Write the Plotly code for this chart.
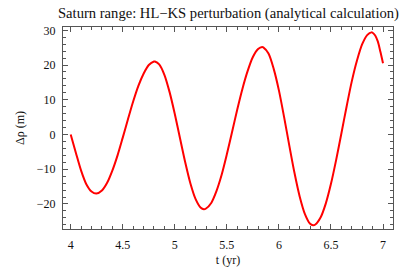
import plotly.graph_objects as go

# Values (extrema, zero crossings and points between)
t_yr = [4.00, 4.05, 4.10, 4.15, 4.20, 4.246, 4.30, 4.35, 4.40, 4.45,
        4.50, 4.55, 4.60, 4.65, 4.70, 4.75, 4.80, 4.809, 4.85, 4.90,
        4.95, 5.00, 5.05, 5.10, 5.15, 5.20, 5.25, 5.279, 5.30, 5.35,
        5.40, 5.45, 5.50, 5.55, 5.60, 5.65, 5.70, 5.75, 5.80, 5.839,
        5.85, 5.90, 5.95, 6.00, 6.05, 6.10, 6.15, 6.20, 6.25, 6.30,
        6.328, 6.35, 6.40, 6.45, 6.50, 6.55, 6.60, 6.65, 6.70, 6.75,
        6.80, 6.85, 6.889, 6.90, 6.925, 6.95, 6.975, 7.00]
delta_rho = [0.0, -5.3, -10.4, -14.3, -16.4, -17.0, -16.1, -13.9, -10.4, -6.0,
             -0.9, 4.4, 9.5, 14.0, 17.5, 20.0, 21.0, 21.0, 20.2, 17.2,
             12.2, 5.9, -1.1, -8.0, -14.1, -18.6, -21.1, -21.5, -21.3, -19.7,
             -16.3, -11.6, -5.7, 0.7, 7.2, 13.2, 18.3, 22.3, 24.6, 25.2,
             25.1, 23.3, 18.9, 12.7, 5.0, -3.2, -11.1, -17.9, -22.9, -25.7,
             -26.1, -25.9, -23.9, -19.9, -14.2, -7.3, 0.3, 8.0, 15.3, 21.3,
             26.0, 28.7, 29.4, 29.3, 28.5, 26.8, 23.8, 20.5]

x_ticks = [4, 4.5, 5, 5.5, 6, 6.5, 7]
x_tick_labels = ["4", "4.5", "5", "5.5", "6", "6.5", "7"]
y_ticks = [-20, -10, 0, 10, 20, 30]
y_tick_labels = ["\u221220", "\u221210", "0", "10", "20", "30"]

title_text = "Saturn range: HL\u2212KS perturbation (analytical calculation)"

font_family = "Liberation Serif, Times New Roman, serif"
frame_col = "#555555"
text_col = "#111111"

fig = go.Figure()
fig.add_trace(go.Scatter(x=t_yr, y=delta_rho, mode="lines",
                         line=dict(color="#ff0000", width=2, shape="spline", smoothing=0.8),
                         showlegend=False, hoverinfo="skip"))

fig.update_layout(
    width=400, height=269,
    margin=dict(l=63, r=7, t=27, b=40, autoexpand=False),
    paper_bgcolor="white", plot_bgcolor="white",
    font=dict(family=font_family, size=12, color=text_col),
    showlegend=False,
)

fig.update_xaxes(
    range=[3.926, 7.096], tickvals=x_ticks, ticktext=x_tick_labels,
    automargin=False,
    showgrid=False, zeroline=False, showline=True, linecolor=frame_col, linewidth=1,
    mirror="allticks", ticks="inside", ticklen=5, tickcolor=frame_col, tickwidth=1,
    minor=dict(dtick=0.1, ticks="inside", ticklen=3, tickcolor=frame_col, showgrid=False),
    ticklabelstandoff=5,
    title=dict(text="t (yr)", standoff=4, font=dict(size=12)),
    tickfont=dict(size=12),
)
fig.update_yaxes(
    range=[-27.2, 30.95], tickvals=y_ticks, ticktext=y_tick_labels,
    automargin=False,
    showgrid=False, zeroline=False, showline=True, linecolor=frame_col, linewidth=1,
    mirror="allticks", ticks="inside", ticklen=5, tickcolor=frame_col, tickwidth=1,
    minor=dict(dtick=2, ticks="inside", ticklen=3, tickcolor=frame_col, showgrid=False),
    ticklabelstandoff=4,
    title=dict(text="\u0394\u03c1 (m)", standoff=9, font=dict(size=12)),
    tickfont=dict(size=12),
)

fig.add_annotation(text=title_text, xref="paper", yref="paper",
                   x=-0.02, y=1.0, xanchor="left", yanchor="bottom", yshift=3,
                   showarrow=False, font=dict(family=font_family, size=14.6, color=text_col))

fig.write_html("out.html", config={"displayModeBar": False},
               post_script="document.body.style.margin='0';")
